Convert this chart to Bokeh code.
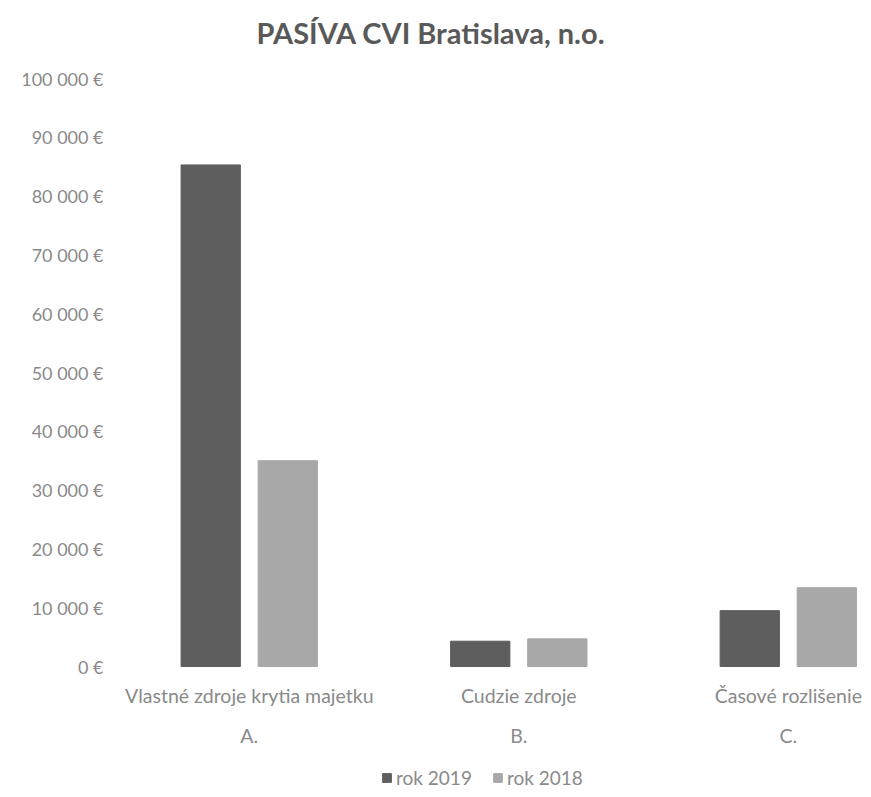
from bokeh.plotting import figure
from bokeh.models import (Range1d, FixedTicker, Legend, LegendItem,
                          ColumnDataSource, Label)
from bokeh.core.properties import value
from bokeh.embed import file_html
from bokeh.resources import INLINE

title_text = "PASÍVA CVI Bratislava, n.o."
categories = ["Vlastné zdroje krytia majetku", "Cudzie zdroje", "Časové rozlišenie"]
codes = ["A.", "B.", "C."]
series_names = ["rok 2019", "rok 2018"]
values_2019 = [85300, 4300, 9500]
values_2018 = [35000, 4700, 13400]
y_ticks = [0, 10000, 20000, 30000, 40000, 50000, 60000, 70000, 80000, 90000, 100000]
y_tick_labels = ["0 €", "10 000 €", "20 000 €", "30 000 €", "40 000 €", "50 000 €",
                 "60 000 €", "70 000 €", "80 000 €", "90 000 €", "100 000 €"]

FONT = "Lato"
LABEL_COLOR = "#8a8a8a"
DARK = "#5e5e5e"
LIGHT = "#a8a8a8"
OFFSET = 0.143
BAR_W = 0.22

W, H = 863, 789
B_LEFT = 114
Y0_PX, YMAX_PX = 666, 78          # pixel rows of value 0 and of the top tick
Y_MAX = y_ticks[-1]
px_per_unit = (Y0_PX - YMAX_PX) / Y_MAX
y_start = -(H - Y0_PX) / px_per_unit
y_end = Y_MAX + YMAX_PX / px_per_unit

idx = list(range(len(categories)))
src = ColumnDataSource(dict(
    x19=[i - OFFSET for i in idx],
    x18=[i + OFFSET for i in idx],
    v19=values_2019,
    v18=values_2018,
))
lab = ColumnDataSource(dict(x=idx, y=[0] * len(idx), cat=categories, code=codes))

p = figure(width=W, height=H,
           x_range=Range1d(-0.5, 2.279), y_range=Range1d(y_start, y_end),
           output_backend="svg", toolbar_location=None,
           min_border_left=B_LEFT, min_border_right=0,
           min_border_top=0, min_border_bottom=0)

p.outline_line_color = None
p.xgrid.visible = False
p.ygrid.visible = False
p.xaxis.visible = False
p.background_fill_color = "white"

r19 = p.vbar(x="x19", top="v19", width=BAR_W, source=src, color=DARK)
r18 = p.vbar(x="x18", top="v18", width=BAR_W, source=src, color=LIGHT)

# category labels (two rows) under the baseline
p.text(x="x", y="y", text="cat", source=lab, y_offset=29,
       text_font=value(FONT), text_font_size="19.5px", text_color=LABEL_COLOR,
       text_align="center", text_baseline="middle")
p.text(x="x", y="y", text="code", source=lab, y_offset=69,
       text_font=value(FONT), text_font_size="19.5px", text_color=LABEL_COLOR,
       text_align="center", text_baseline="middle")

# title
title = Label(x=142, y=H - 32, x_units="screen", y_units="screen",
              text=title_text, text_font=FONT, text_font_size="29px",
              text_font_style="bold", text_color="#595959",
              text_baseline="middle", text_align="left")
p.add_layout(title)

# y axis
ya = p.yaxis[0]
ya.ticker = FixedTicker(ticks=y_ticks)
ya.major_label_overrides = {t: l for t, l in zip(y_ticks, y_tick_labels)}
ya.axis_line_color = None
ya.major_tick_line_color = None
ya.minor_tick_line_color = None
ya.major_label_text_font = FONT
ya.major_label_text_font_size = "18px"
ya.major_label_text_color = LABEL_COLOR
ya.major_label_standoff = 5

legend = Legend(items=[LegendItem(label=series_names[0], renderers=[r19]),
                       LegendItem(label=series_names[1], renderers=[r18])],
                orientation="horizontal", location=(267, 0),
                glyph_width=11, glyph_height=11, spacing=20,
                label_text_font=FONT, label_text_font_size="19px",
                label_text_color=LABEL_COLOR, label_standoff=4,
                border_line_color=None, background_fill_alpha=0,
                padding=0, margin=0)
p.add_layout(legend, "center")

open("out.html", "w").write(file_html(p, INLINE))
